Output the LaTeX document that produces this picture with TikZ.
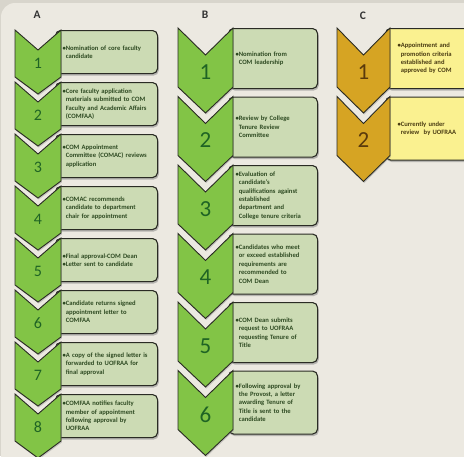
\documentclass[tikz,border=0pt]{standalone}
\usepackage{fontspec}
\setmainfont{Carlito}
\usetikzlibrary{shadows}
\definecolor{bgout}{HTML}{D8D5CC}
\definecolor{panel}{HTML}{ECE9E1}
\definecolor{edge}{HTML}{2A2B24}
\definecolor{chevgreen}{HTML}{82C446}
\definecolor{boxgreen}{HTML}{CCDBB4}
\definecolor{txtgreen}{HTML}{2E4A22}
\definecolor{numgreen}{HTML}{1F6424}
\definecolor{chevgold}{HTML}{D6A423}
\definecolor{boxyellow}{HTML}{FAF190}
\definecolor{txtbrown}{HTML}{4A3C12}
\definecolor{numbrown}{HTML}{5A3A0C}
\newcommand{\indt}{\phantom{\textbullet}}

\begin{document}
\begin{tikzpicture}[x=1pt, y=-1pt,
    stepbox/.style={draw=edge, line width=1.1pt, rounded corners=5pt, anchor=north west,
      align=left, font=\fontsize{6.6}{8.4}\selectfont\bfseries,
      drop shadow={shadow xshift=1.2pt, shadow yshift=-2pt, opacity=.5}},
    abox/.style={stepbox, fill=boxgreen, text=txtgreen, minimum height=43pt, inner xsep=7pt, text width=88pt},
    bbox/.style={stepbox, fill=boxgreen, text=txtgreen, minimum height=60pt, inner xsep=7pt, text width=75pt},
    cbox/.style={stepbox, fill=boxyellow, text=txtbrown, minimum height=60pt, inner xsep=12pt, text width=66pt},
    chev/.style={draw=edge, line width=.9pt, line join=miter,
      drop shadow={shadow xshift=.8pt, shadow yshift=-1.5pt, opacity=.35}},
    numA/.style={text=numgreen, font=\fontsize{16}{16}\selectfont},
    numB/.style={text=numgreen, font=\fontsize{23}{23}\selectfont},
    numC/.style={text=numbrown, font=\fontsize{23}{23}\selectfont},
    collabel/.style={text=black!80, font=\fontsize{11.5}{11.5}\selectfont\bfseries}]
    \useasboundingbox (0,0) rectangle (464,456);
    \fill[bgout] (0,0) rectangle (464,456);
    \fill[panel, rounded corners=14pt] (1,3) rectangle (490,480);

    % column labels
    \node[collabel] (labA) at (37,15) {A};
    \node[collabel] (labB) at (205,15) {B};
    \node[collabel] (labC) at (363,16) {C};

    % column A
    \node[abox] (a1) at (55,30) {\textbullet Nomination of core faculty\\\indt candidate};
    \node[abox] (a2) at (55,82) {\textbullet Core faculty application\\\indt materials submitted to COM\\\indt Faculty and Academic Affairs\\\indt (COMFAA)};
    \node[abox] (a3) at (55,134) {\textbullet COM Appointment\\\indt Committee (COMAC) reviews\\\indt application};
    \node[abox] (a4) at (55,186) {\textbullet COMAC recommends\\\indt candidate to department\\\indt chair for appointment};
    \node[abox] (a5) at (55,238) {\textbullet Final approval-COM Dean\\\textbullet Letter sent to candidate};
    \node[abox] (a6) at (55,290) {\textbullet Candidate returns signed\\\indt appointment letter to\\\indt COMFAA};
    \node[abox] (a7) at (55,342) {\textbullet A copy of the signed letter is\\\indt forwarded to UOFRAA for\\\indt final approval};
    \node[abox] (a8) at (55,394) {\textbullet COMFAA notifies faculty\\\indt member of appointment\\\indt following approval by\\\indt UOFRAA};
    \foreach \k in {1,...,8} {
        \pgfmathsetmacro\t{30+52*(\k-1)}
        \draw[chev, fill=chevgreen] (15,\t) -- ++(23,20) -- ++(23,-20) -- ++(0,47) -- ++(-23,17) -- ++(-23,-17) -- cycle;
        \node[numA] (na\k) at (38,\t+33) {\k};
    }

    % column B
    \node[bbox] (b1) at (228,28) {\textbullet Nomination from\\\indt COM leadership};
    \node[bbox] (b2) at (228,96.5) {\textbullet Review by College\\\indt Tenure Review\\\indt Committee};
    \node[bbox] (b3) at (228,165) {\textbullet Evaluation of\\\indt candidate's\\\indt qualifications against\\\indt established\\\indt department and\\\indt College tenure criteria};
    \node[bbox] (b4) at (228,233.5) {\textbullet Candidates who meet\\\indt or exceed established\\\indt requirements are\\\indt recommended to\\\indt COM Dean};
    \node[bbox] (b5) at (228,302) {\textbullet COM Dean submits\\\indt request to UOFRAA\\\indt requesting Tenure of\\\indt Title};
    \node[bbox, minimum height=63pt] (b6) at (228,370.5) {\textbullet Following approval by\\\indt the Provost, a letter\\\indt awarding Tenure of\\\indt Title is sent to the\\\indt candidate};
    \foreach \k in {1,...,6} {
        \pgfmathsetmacro\t{28+68.5*(\k-1)}
        \draw[chev, fill=chevgreen] (178,\t) -- ++(27.5,27) -- ++(27.5,-27) -- ++(0,59) -- ++(-27.5,26) -- ++(-27.5,-26) -- cycle;
        \node[numB] (nb\k) at (205.5,\t+44) {\k};
    }

    % column C
    \node[cbox] (c1) at (385,28) {\textbullet Appointment and\\\indt promotion criteria\\\indt established and\\\indt approved by COM};
    \node[cbox, minimum height=63pt] (c2) at (385,96.5) {\textbullet Currently under\\\indt review\ \ by UOFRAA};
    \foreach \k in {1,2} {
        \pgfmathsetmacro\t{28+68.5*(\k-1)}
        \draw[chev, fill=chevgold] (337,\t) -- ++(26.5,27) -- ++(26.5,-27) -- ++(0,59) -- ++(-26.5,26) -- ++(-26.5,-26) -- cycle;
        \node[numC] (nc\k) at (363.5,\t+44) {\k};
    }
\end{tikzpicture}
\end{document}
